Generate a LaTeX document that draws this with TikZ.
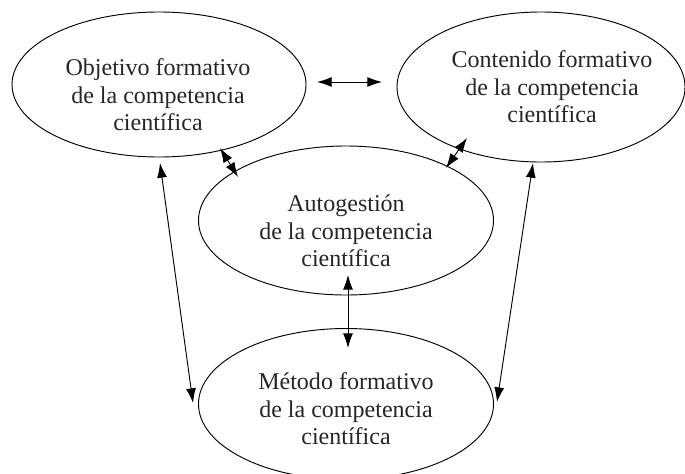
\documentclass[tikz,border=0pt]{standalone}
\usepackage{fontspec}
\setmainfont{Liberation Serif}
\usetikzlibrary{shapes.geometric,arrows.meta,calc}
\tikzset{
  bubble/.style={draw, ellipse, line width=0.8pt, inner sep=0pt},
  caption/.style={align=center, font=\fontsize{20.5}{23.5}\selectfont, text=black!85},
  biarrow/.style={{Latex[length=12.5pt,width=8.5pt]}-{Latex[length=12.5pt,width=8.5pt]}, line width=0.8pt},
}
\begin{document}
\begin{tikzpicture}[x=0.03cm,y=-0.03cm]
\useasboundingbox (0,0) rectangle (685,473);
% the four ellipses
\node[bubble,minimum width=8.82cm,minimum height=4.35cm] (obj) at (159,84.5) {};
\node[bubble,minimum width=8.64cm,minimum height=4.5cm] (con) at (541,87) {};
\node[bubble,minimum width=8.85cm,minimum height=4.47cm] (aut) at (346,220.5) {};
\node[bubble,minimum width=8.85cm,minimum height=4.53cm] (met) at (346,404) {};
% texts
\node[caption] (objt) at (158,95) {Objetivo formativo\\de la competencia\\científica};
\node[caption] (cont) at (552,87) {Contenido formativo\\de la competencia\\científica};
\node[caption] (autt) at (346,231) {Autogestión\\de la competencia\\científica};
\node[caption] (mett) at (346,409) {Método formativo\\de la competencia\\científica};
% arrows
\draw[biarrow] ($(obj)+(158,-2.5)$) -- ($(con)+(-159,-5)$);
\draw[biarrow] ($(obj)+(61,63.5)$) -- ($(aut)+(-108,-43.5)$);
\draw[biarrow] ($(con)+(-74,51)$) -- ($(aut)+(100,-52.5)$);
\draw[biarrow] ($(aut)+(2,54.5)$) -- ($(met)+(2,-56)$);
\draw[biarrow] ($(obj)+(1,78.5)$) -- ($(met)+(-153,-1)$);
\draw[biarrow] ($(con)+(-8,76)$) -- ($(met)+(151,-2)$);
\end{tikzpicture}
\end{document}
